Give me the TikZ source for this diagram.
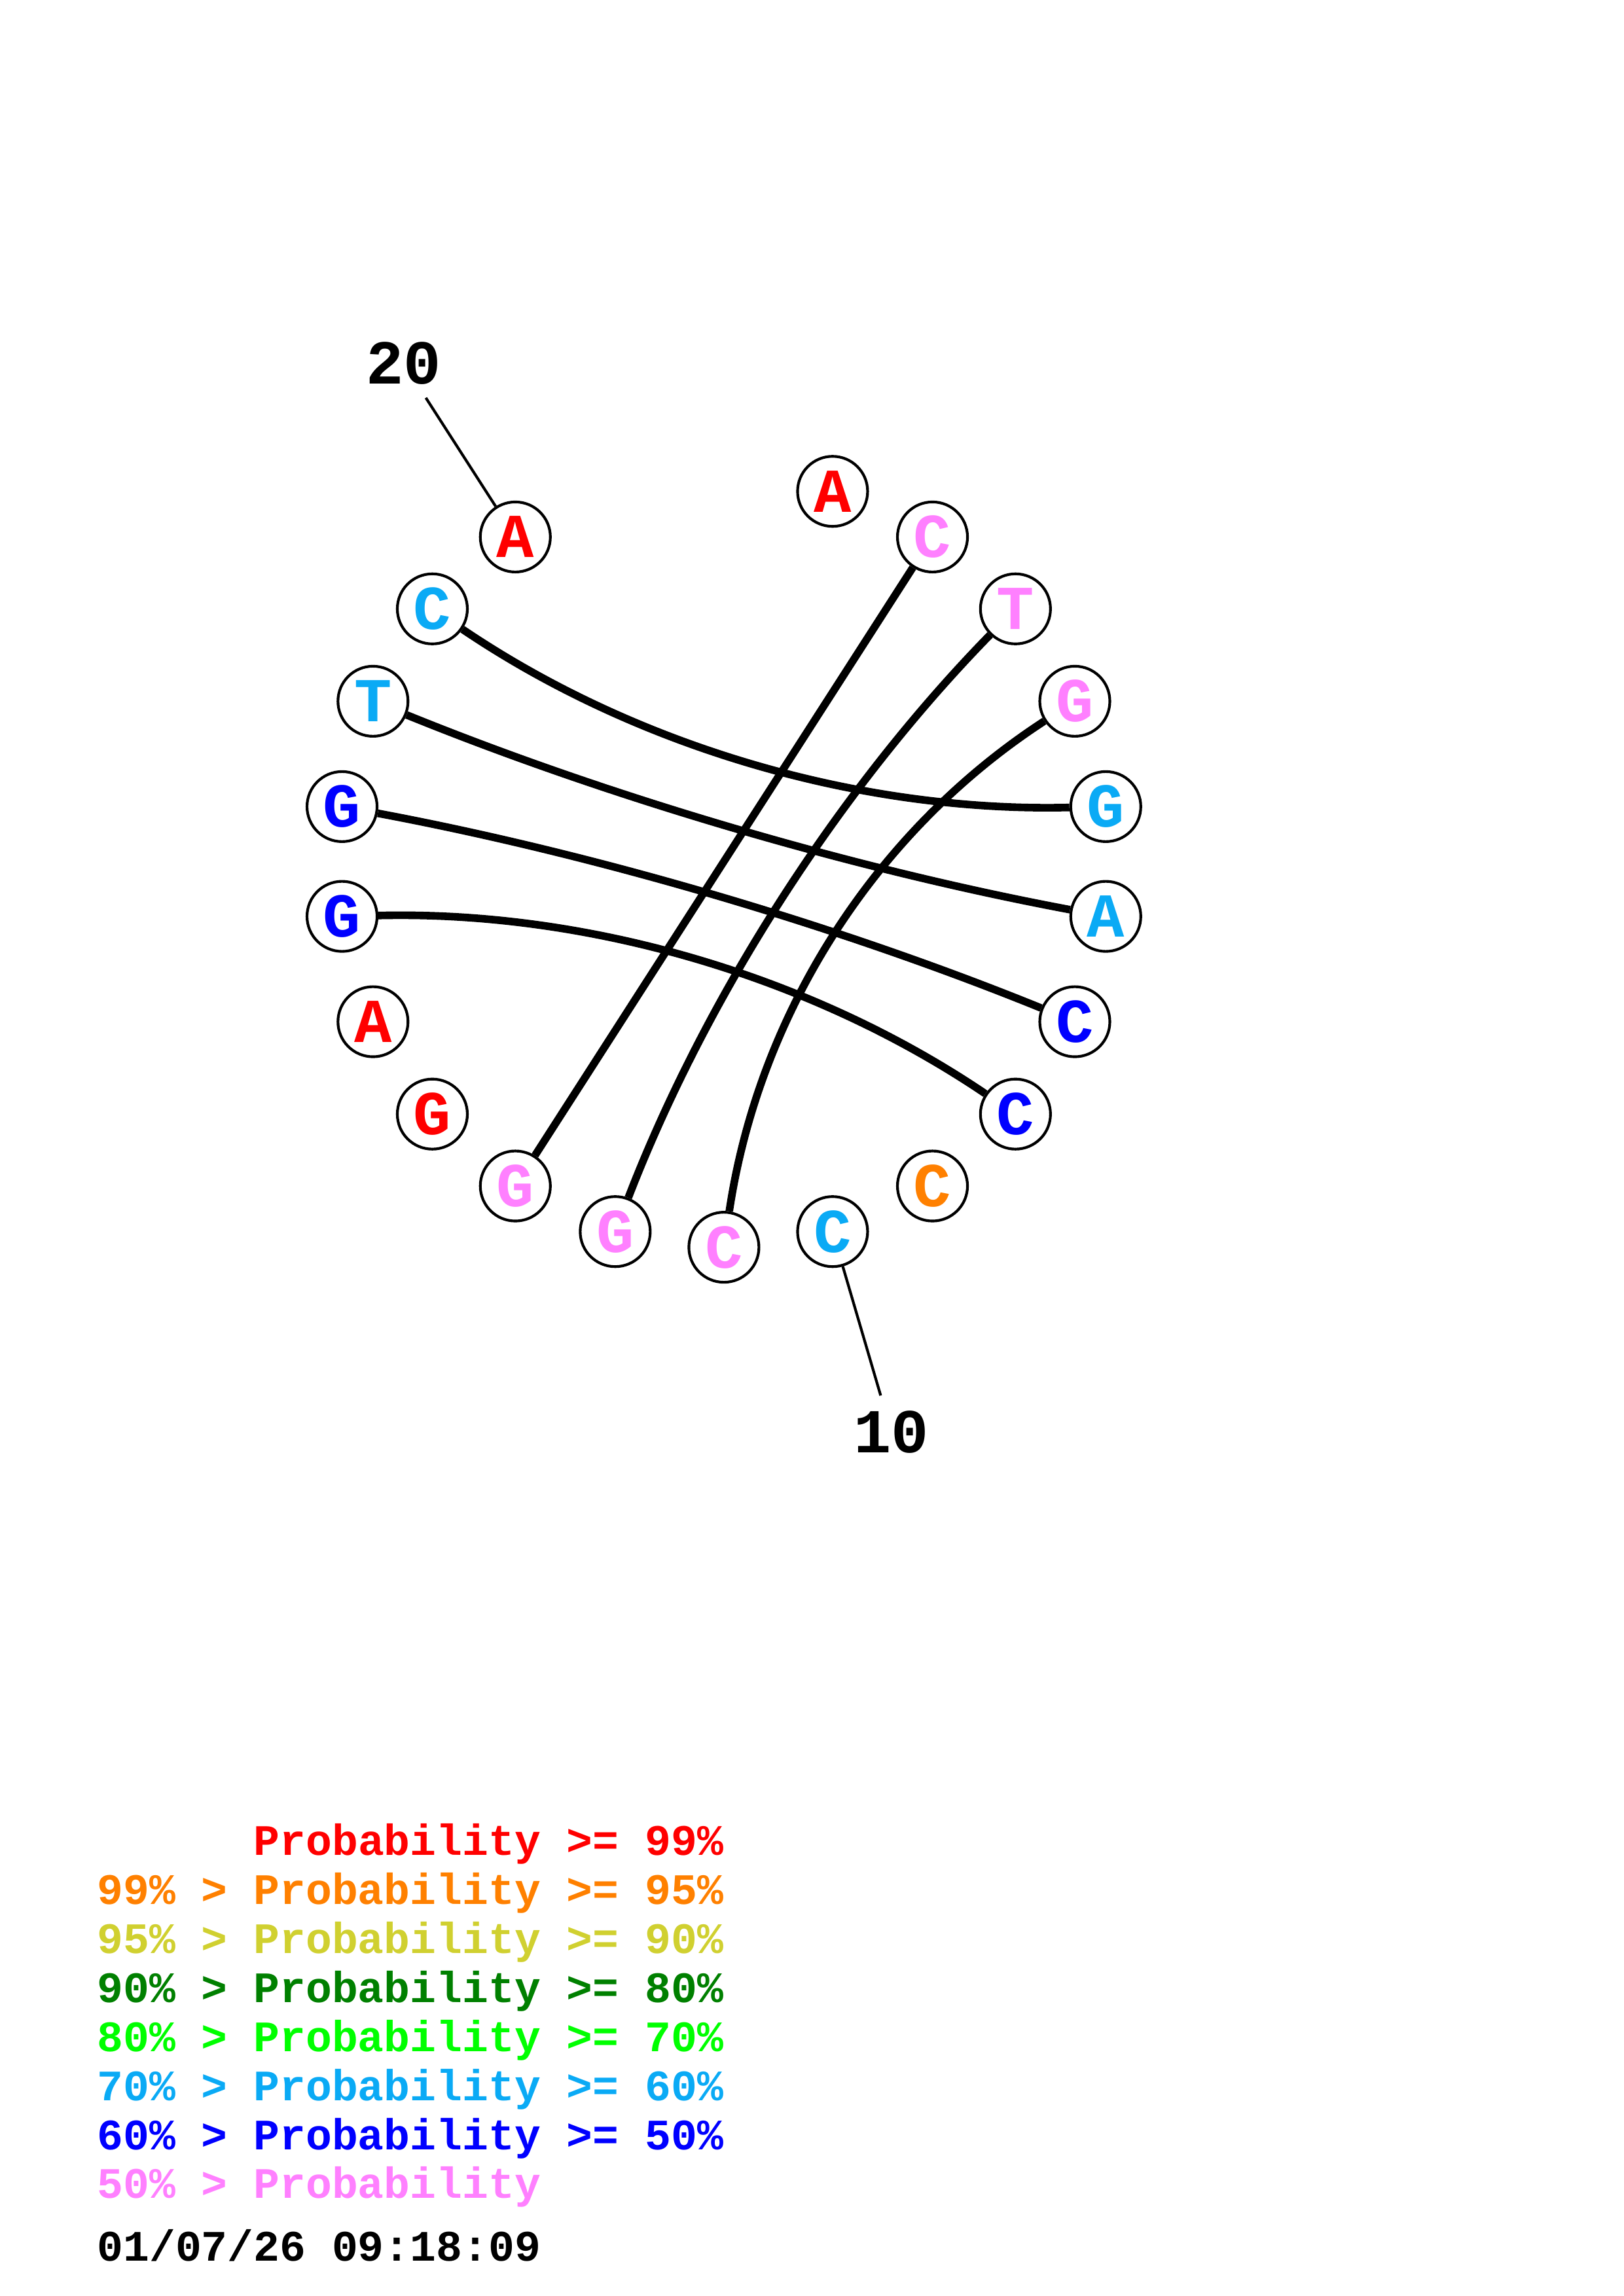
\documentclass[tikz,border=0pt]{standalone}
\usepackage{fontspec}
\setmonofont{Liberation Mono}
\usetikzlibrary{calc}
\definecolor{pred}{RGB}{255,0,0}
\definecolor{porange}{RGB}{255,128,0}
\definecolor{pyellow}{RGB}{208,208,48}
\definecolor{pdkgreen}{RGB}{0,128,0}
\definecolor{pgreen}{RGB}{0,255,0}
\definecolor{pcyan}{RGB}{10,170,245}
\definecolor{pblue}{RGB}{0,0,255}
\definecolor{ppink}{RGB}{255,128,255}
\tikzset{
  nuc/.style={circle, draw, line width=1pt, fill=white, minimum size=0.906cm, inner sep=0pt,
    font={\ttfamily\bfseries\fontsize{23}{23}\selectfont}},
  pair/.style={line width=2.8pt},
  tick/.style={line width=1pt},
  num/.style={inner sep=0pt, font={\ttfamily\bfseries\fontsize{23}{23}\selectfont}},
  key/.style={anchor=base west, inner sep=0pt, font={\ttfamily\bfseries\fontsize{16}{16}\selectfont}},
}

\begin{document}
\begin{tikzpicture}
		\useasboundingbox (0,0) rectangle (21,29.7);
		\begin{scope}[shift={(9.363,18.556)}]
		\coordinate (ctr) at (0,0);
		% bases round the circle
		\foreach \i/\b/\c in {1/A/pred,2/C/ppink,3/T/ppink,4/G/ppink,5/G/pcyan,6/A/pcyan,7/C/pblue,8/C/pblue,9/C/porange,10/C/pcyan,
			11/C/ppink,12/G/ppink,13/G/ppink,14/G/pred,15/A/pred,16/G/pblue,17/G/pblue,18/T/pcyan,19/C/pcyan,20/A/pred}{
			\pgfmathsetmacro\ang{-90+(11-\i)*360/22}
			\node[nuc, text=\c] (n\i) at (\ang:4.99) {\b};
		}
		% pairs
		\foreach \i/\j in {19/5,18/6,17/7,16/8,2/13,3/12,4/11}{
			\coordinate (m\i) at ($(n\i)!0.5!(n\j)$);
			\coordinate (q\i) at ($(m\i)!0.7!(ctr)$);
			\draw[pair] (n\i) .. controls ($(n\i)!0.667!(q\i)$) and ($(n\j)!0.667!(q\i)$) .. (n\j);
		}
		% numbering
		\node[num] (l10) at (-73.64:7.69) {10};
		\node[num] (l20) at (122.73:7.66) {20};
		\coordinate (t10) at (-73.64:7.2);
		\coordinate (t20) at (122.73:7.13);
		\draw[tick] (n10) -- (t10);
		\draw[tick] (n20) -- (t20);
		\end{scope}
		% legend
		\foreach \txt/\c [count=\r from 0] in {{\phantom{99\% > }Probability >= 99\%}/pred,
			{99\% > Probability >= 95\%}/porange,
			{95\% > Probability >= 90\%}/pyellow,
			{90\% > Probability >= 80\%}/pdkgreen,
			{80\% > Probability >= 70\%}/pgreen,
			{70\% > Probability >= 60\%}/pcyan,
			{60\% > Probability >= 50\%}/pblue,
			{50\% > Probability}/ppink}{
			\node[key, text=\c] (key\r) at (1.25,{5.70-0.634*\r}) {\txt};
		}
		\node[key] (stamp) at (1.25,0.45) {01/07/26 09:18:09};
\end{tikzpicture}
\end{document}
